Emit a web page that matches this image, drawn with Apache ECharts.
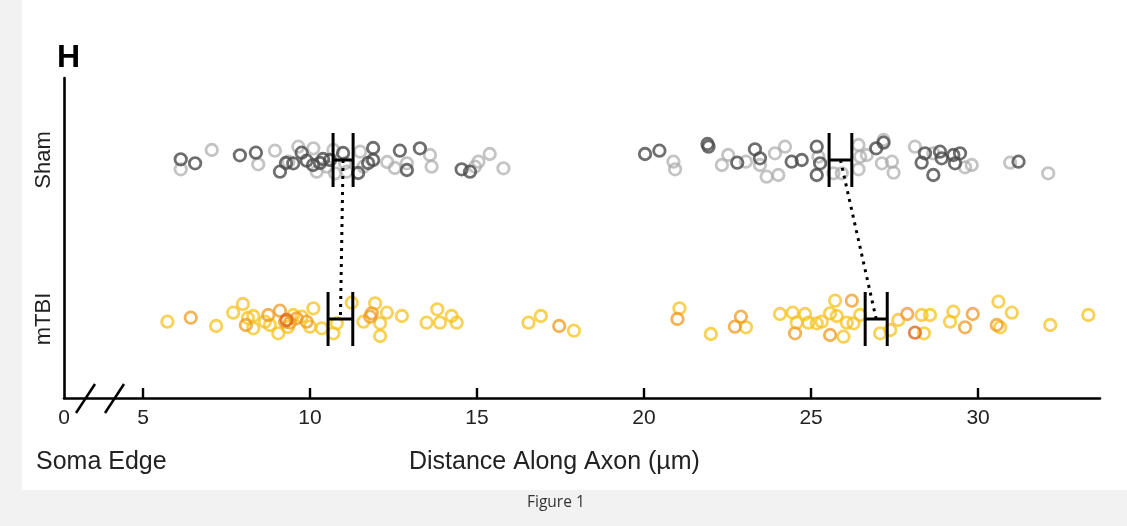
<!DOCTYPE html>
<html><head><meta charset="utf-8">
<script src="https://cdn.jsdelivr.net/npm/echarts@6/dist/echarts.min.js"></script>
<style>html,body{margin:0;padding:0;background:#f2f2f2}#c{width:1127px;height:526px}</style>
</head><body><div id="c"></div><script>
// ---- data ----
const panelLetter = 'H';
const tickValues = [5, 10, 15, 20, 25, 30];
const somaEdgeValue = 2.635;          // axis start, drawn as the "0" / soma edge
const somaEdgeLabel = '0';
const xMax = 33.65;
const groups = ['Sham', 'mTBI'];
const groupBaseline = [238, 79];      // vertical centre of each group's jitter band
const xTitle = 'Distance Along Axon (µm)';
const somaTitle = 'Soma Edge';
const caption = 'Figure 1';

// [distance µm, jitter position]
const shamDark = [[6.13,238.7],[6.56,234.7],[7.90,242.7],[8.38,245.3],[9.10,226.3],[9.28,235],[9.50,234.7],[9.75,245.3],[9.90,237.3],[10.09,233],[10.30,235],[10.39,239],[10.60,238],[10.99,245],[11.44,225],[11.74,235],[11.89,250],[11.89,238],[12.69,247.3],[12.90,228],[13.29,249.7],[14.54,228.7],[14.79,226.3],
  [20.03,244],[20.46,247.3],[21.90,254],[21.93,251.3],[22.79,235.3],[23.32,248.7],[23.47,239.7],[24.42,236.3],[24.72,238],[25.17,251.3],[25.27,234.7],[25.17,223],[26.95,249.7],[27.17,255.3],[28.31,235.3],[28.41,244.7],[28.66,223],[28.86,246.3],[28.91,239.7],[29.26,243],[29.31,234.7],[29.46,244.7],[31.21,236.3]];
const shamLight = [[6.13,228.7],[7.06,248],[8.45,233.7],[8.95,247.3],[9.35,236.3],[9.65,251.3],[10.10,249.7],[10.20,226.3],[10.50,231.3],[10.70,248],[10.75,224.7],[11.05,234.7],[11.10,226.3],[11.50,246.3],[11.60,231.3],[12.31,236],[12.54,230],[12.90,234.7],[13.59,243],[13.64,231.3],[14.94,231.3],[15.04,236.3],[15.38,244],[15.79,229.7],
  [20.88,236.3],[20.93,228.7],[22.33,233],[22.52,243],[23.05,236.3],[23.47,233],[23.67,221.3],[23.92,244.7],[24.02,223],[24.22,251.3],[25.22,241.3],[25.67,224.7],[25.92,224.7],[26.42,253],[26.42,228.7],[26.47,241.3],[26.67,243],[27.17,258],[27.12,234.7],[27.42,236.3],[27.47,225.3],[28.11,251.3],[28.66,244.7],[29.61,230.7],[29.81,233],[30.96,235.3],[32.10,224.7]];
const mtbiYellow = [[5.73,76.3],[7.19,72],[7.70,85.3],[7.99,94],[8.14,80],[8.30,82],[8.30,69.7],[8.65,76.3],[8.80,73],[9.05,64.7],[9.34,71],[9.50,83],[9.75,81.3],[10.10,89.7],[10.00,71.3],[10.35,69.7],[10.70,64.7],[10.80,74.7],[11.25,95.3],[11.60,76.3],[11.95,94.7],[12.10,74.7],[12.10,62],[12.30,85.3],[12.75,82],[13.49,75.3],[13.81,88.7],[13.89,75.3],[14.24,82],[14.39,75.3],[16.54,75.3],[16.91,82],[17.90,67.3],
  [21.06,89.7],[22.00,64],[23.05,70.7],[24.07,84],[24.45,85.3],[24.57,75.3],[24.82,84],[24.92,75.3],[25.17,74.7],[25.32,76.3],[25.57,84.7],[25.72,97.3],[25.77,82],[26.07,75.3],[26.47,83],[26.27,74.7],[25.97,61.3],[27.07,64.7],[27.37,68],[27.61,78],[28.31,83],[28.38,64.7],[28.56,83],[29.16,76.3],[29.26,86.3],[30.61,96.3],[30.66,70.7],[31.01,85.3],[32.16,73],[33.30,83]];
const mtbiOrange = [[6.43,80.3],[8.08,73],[8.75,83],[9.10,87.3],[9.25,76.3],[9.40,75.3],[9.60,79.7],[9.90,76.3],[11.80,81.3],[11.85,84.7],[17.46,72],
  [21.00,79],[22.72,71.3],[22.90,81.3],[24.52,64.7],[25.57,63],[26.22,97.3],[27.88,84],[29.61,70.7],[29.84,84],[30.56,73]];
const mtbiDeep = [[9.30,78],[28.11,65.3]];

const shamMean = [10.99, 25.88];
const shamHalf = [0.30, 0.34];
const mtbiMean = [10.91, 26.95];
const mtbiHalf = [0.37, 0.33];

// ---- chart ----
const FONT = '"Liberation Sans", Arial, sans-serif';
const chart = echarts.init(document.getElementById('c'));
const GRID = {left: 64, right: 27, top: 78, bottom: 128};

function pts(name, data, color, opacity) {
  return {
    name, type: 'scatter', data, symbol: 'circle', symbolSize: 11.5,
    itemStyle: {color: 'rgba(0,0,0,0)', borderColor: color, borderWidth: 2.8, opacity},
    emphasis: {disabled: true}, z: 2
  };
}
const errData = [];
shamMean.forEach((m, i) => errData.push([m, groupBaseline[0], shamHalf[i]]));
mtbiMean.forEach((m, i) => errData.push([m, groupBaseline[1], mtbiHalf[i]]));

function renderErr(params, api) {
  const m = api.value(0), y = api.value(1), h = api.value(2);
  const pL = api.coord([m - h, y]), pR = api.coord([m + h, y]);
  const half = 27;
  const st = {stroke: '#000', lineWidth: 3};
  return {type: 'group', children: [
    {type: 'line', shape: {x1: pL[0], y1: pL[1], x2: pR[0], y2: pR[1]}, style: st},
    {type: 'line', shape: {x1: pL[0], y1: pL[1] - half, x2: pL[0], y2: pL[1] + half}, style: st},
    {type: 'line', shape: {x1: pR[0], y1: pR[1] - half, x2: pR[0], y2: pR[1] + half}, style: st}
  ]};
}
const connectors = shamMean.map((m, i) => ({
  type: 'line', data: [[m, groupBaseline[0]], [mtbiMean[i], groupBaseline[1]]],
  symbol: 'none', lineStyle: {color: '#000', width: 3, type: [3, 5]}, z: 4, silent: true
}));

chart.setOption({
  animation: false,
  backgroundColor: 'transparent',
  title: {text: panelLetter, left: 52, top: 37, textStyle: {fontFamily: FONT, fontSize: 32, fontWeight: 'bold', color: '#000'}},
  grid: GRID,
  xAxis: {
    type: 'value', min: somaEdgeValue, max: xMax,
    axisLine: {lineStyle: {color: '#000', width: 2.6}},
    axisTick: {inside: true, length: 10, lineStyle: {color: '#000', width: 2.4}, customValues: tickValues},
    axisLabel: {customValues: [somaEdgeValue].concat(tickValues), margin: 10, fontFamily: FONT, fontSize: 21, color: '#222',
      formatter: v => Math.abs(v - somaEdgeValue) < 1e-6 ? somaEdgeLabel : String(v)},
    splitLine: {show: false}
  },
  yAxis: {
    type: 'value', min: 0, max: 320,
    axisLine: {show: true, lineStyle: {color: '#000', width: 2.6}},
    axisTick: {show: false},
    axisLabel: {customValues: groupBaseline, rotate: 90, margin: 9, fontFamily: FONT, fontSize: 22, color: '#222',
      formatter: v => groups[groupBaseline.indexOf(v)]},
    splitLine: {show: false}
  },
  series: [
    pts('Sham light', shamLight, '#ababab', 0.7),
    pts('Sham dark', shamDark, '#4a4a4a', 0.8),
    pts('mTBI yellow', mtbiYellow, '#f6c21c', 0.75),
    pts('mTBI orange', mtbiOrange, '#ef9a22', 0.75),
    pts('mTBI deep', mtbiDeep, '#e0661e', 0.8),
    ...connectors,
    {type: 'custom', data: errData, renderItem: renderErr, z: 5, silent: true}
  ]
});

// decorations placed from the axis scale
const p0 = chart.convertToPixel({gridIndex: 0}, [somaEdgeValue, 0]);
const slashStyle = {stroke: '#000', lineWidth: 2.5};
chart.setOption({
  graphic: [
    {type: 'rect', z: -10, shape: {x: 22, y: 0, width: 1105, height: 490}, style: {fill: '#fff'}, silent: true},
    {type: 'line', z: 10, shape: {x1: p0[0] + 12, y1: p0[1] + 15, x2: p0[0] + 31, y2: p0[1] - 14}, style: slashStyle, silent: true},
    {type: 'line', z: 10, shape: {x1: p0[0] + 41, y1: p0[1] + 15, x2: p0[0] + 60, y2: p0[1] - 14}, style: slashStyle, silent: true},
    {type: 'text', z: 10, left: 36, top: 450, style: {text: somaTitle, fontFamily: FONT, fontSize: 25, fill: '#222'}},
    {type: 'text', z: 10, left: 409, top: 450, style: {text: xTitle, fontFamily: FONT, fontSize: 25, fill: '#222'}},
    {type: 'text', z: 10, left: 527, top: 495, style: {text: caption, fontFamily: '"Open Sans", "Noto Sans", sans-serif', fontSize: 15.5, fill: '#333'}}
  ]
});
</script></body></html>
